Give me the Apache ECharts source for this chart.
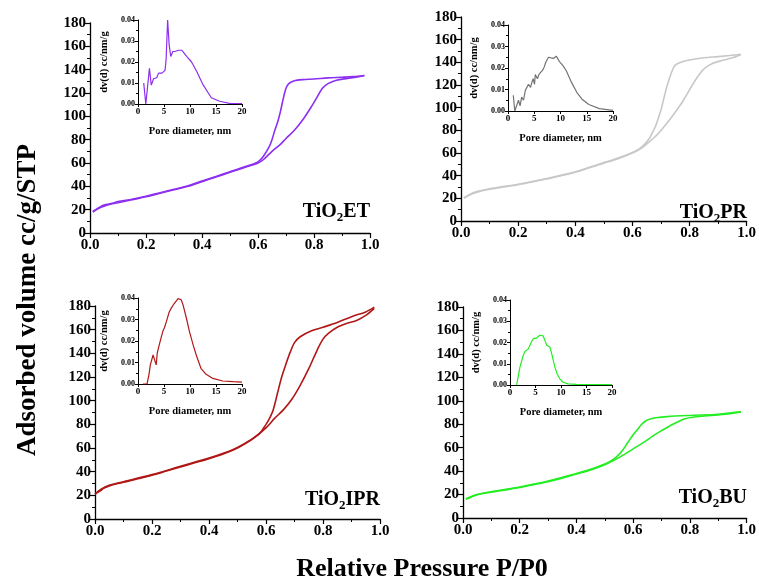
<!DOCTYPE html>
<html><head><meta charset="utf-8">
<script src="https://cdn.jsdelivr.net/npm/echarts@6/dist/echarts.min.js"></script>
<style>html,body{margin:0;padding:0;background:#fff}#c{width:759px;height:586px}</style>
</head><body><div id="c"></div>
<script>
// ---------- Data ----------
// TiO2ET isotherm
const etAdsP = [0.01,0.03,0.05,0.08,0.1,0.15,0.2,0.25,0.3,0.35,0.4,0.45,0.5,0.55,0.6,0.62,0.65,0.68,0.7,0.73,0.76,0.79,0.81,0.83,0.85,0.88,0.92,0.96,0.98];
const etAdsV = [18,21,23,25,26,28.5,31,34,37,40,44,48,52,56,60,63,70,76,81,88,97,108,116,124,128,131,132.5,134,135];
const etDesP = [0.98,0.94,0.9,0.85,0.8,0.76,0.73,0.71,0.70,0.69,0.68,0.67,0.66,0.65,0.64,0.62,0.6,0.55,0.5,0.45,0.4,0.35,0.3,0.25,0.2,0.15,0.1,0.08,0.05,0.03,0.01];
const etDesV = [135,134,133.5,133,132,131.5,130.5,128,124,115,104,95,88,80,74,66,61,56.5,52.5,48.5,44.5,40.5,37.5,34.5,31.5,29,27,25.5,24,21.5,18.5];
// TiO2PR isotherm
const prAdsP = [0.01,0.03,0.05,0.1,0.15,0.2,0.25,0.3,0.35,0.4,0.45,0.5,0.55,0.6,0.63,0.66,0.69,0.72,0.75,0.78,0.81,0.83,0.85,0.88,0.92,0.95,0.98];
const prAdsV = [20,23,25,28,30,32,34.5,37,40,43,47,51,55,60,64,70,77,86,96,107,120,128,134,139,142,144,147];
const prDesP = [0.98,0.94,0.9,0.85,0.8,0.77,0.75,0.74,0.73,0.72,0.71,0.70,0.69,0.68,0.67,0.66,0.64,0.62,0.6,0.55,0.5,0.45,0.4,0.3,0.2,0.1,0.05,0.01];
const prDesV = [147,146,145,144,142,140,137.5,133,126,118,108,98,90,83,78,73,67,63,60.5,55.5,51.5,47.5,43.5,37.5,32.5,28.5,25.5,20.5];
// TiO2IPR isotherm
const iprAdsP = [0.0,0.01,0.02,0.03,0.05,0.08,0.1,0.15,0.2,0.25,0.3,0.35,0.4,0.45,0.5,0.55,0.6,0.63,0.66,0.69,0.72,0.75,0.78,0.8,0.82,0.85,0.88,0.92,0.95,0.98];
const iprAdsV = [21,22.5,24,26,28,30,31,34,37,40.5,44,47.5,51,55,60,67,77,85,92,101,113,127,143,152,157,162,165,168,172,178];
const iprDesP = [0.98,0.95,0.9,0.85,0.8,0.76,0.72,0.7,0.685,0.67,0.655,0.64,0.625,0.61,0.6,0.58,0.55,0.5,0.45,0.4,0.3,0.2,0.1,0.05,0.02,0.0];
const iprDesV = [179,175,171,166,162,159,154,149,141,131,120,106,92,84,80,73,67.5,60.5,55.5,51.5,44.5,37.5,31.5,28.5,25,21];
// TiO2BU isotherm
const buAdsP = [0.01,0.03,0.06,0.1,0.15,0.2,0.25,0.3,0.35,0.4,0.45,0.5,0.53,0.56,0.6,0.64,0.67,0.7,0.74,0.78,0.81,0.85,0.9,0.94,0.98];
const buAdsV = [16,18,20.5,22,24,26,28.5,31,34,37.5,41,45.5,49,53,59,65,70,74.5,80,84.5,86,87,88,89,90.5];
const buDesP = [0.98,0.9,0.8,0.72,0.68,0.66,0.645,0.63,0.62,0.6,0.58,0.56,0.54,0.52,0.5,0.45,0.4,0.3,0.2,0.1,0.05,0.01];
const buDesV = [90.5,88.5,87.5,86.5,85.5,84.5,83,80,77,71,64,57,52,48.5,46,41.5,38,31.5,26.5,22.5,20,16.5];
// Pore size distributions (insets)
const etPoreD = [1.1,1.5,1.85,2.2,2.55,3.0,3.6,3.95,4.3,4.6,4.9,5.2,5.4,5.7,6.0,6.3,6.7,7.1,7.8,8.4,9.4,10.3,11.3,12.5,14.1,15.7,17.6,20];
const etPoreV = [0.010,0,0,0.017,0.009,0.012,0.0125,0.0147,0.014,0.0147,0.0155,0.016,0.021,0.040,0.028,0.0226,0.025,0.025,0.0256,0.0256,0.0226,0.020,0.0155,0.0092,0.003,0.0013,0.0003,0.0002];
const prPoreD = [1.0,1.3,1.6,2.0,2.3,2.6,2.95,3.3,3.6,3.9,4.3,4.5,4.8,5.05,5.2,5.6,5.9,6.2,6.6,6.9,7.2,7.7,8.2,8.7,9.2,9.8,10.5,11.1,12.1,13.1,14.1,15.4,17.4,20];
const prPoreV = [0.0073,0,0,0.005,0.0024,0.0065,0.005,0.0096,0.010,0.0124,0.011,0.013,0.015,0.0124,0.017,0.015,0.017,0.0178,0.019,0.0205,0.0227,0.025,0.0247,0.0245,0.0255,0.023,0.021,0.0187,0.0133,0.0087,0.0055,0.003,0.0011,0.0003];
const iprPoreD = [0.96,1.73,2.1,2.37,2.9,3.1,3.3,3.5,3.7,4.0,4.5,4.8,5.1,5.45,6.0,6.4,6.9,7.2,7.7,8.0,8.3,8.65,9.3,9.9,10.6,11.2,12.1,13.1,14.4,16.3,18.3,20];
const iprPoreV = [0,0,0.0042,0.0089,0.0135,0.0143,0.0104,0.0089,0.0143,0.0174,0.022,0.0247,0.0263,0.029,0.0335,0.0353,0.0372,0.038,0.0397,0.040,0.0392,0.0369,0.0307,0.0244,0.0182,0.0135,0.0073,0.0045,0.0026,0.0014,0.0011,0.0009];
const buPoreD = [1.3,1.63,1.95,2.3,2.6,2.9,3.26,3.6,3.9,4.2,4.56,4.9,5.2,5.5,5.86,6.2,6.5,6.84,7.2,7.5,7.8,8.1,8.5,8.8,9.25,9.8,10.4,11.4,13,20];
const buPoreV = [0,0,0.0084,0.0115,0.0139,0.0158,0.0166,0.017,0.0187,0.0202,0.0218,0.0226,0.0221,0.0218,0.0234,0.0237,0.0231,0.021,0.0187,0.0183,0.0179,0.0155,0.0115,0.0084,0.0052,0.0028,0.0013,0.0005,0.0003,0.0002];

const sampleNames = ['ET','PR','IPR','BU'];
const mainColors = ['#8c2ff0','#c8c8c8','#b01818','#22ee22'];
const insetColors = ['#8c2ff0','#747474','#b01818','#22ee22'];
const xTitle = 'Relative Pressure P/P0';
const yTitle = 'Adsorbed volume cc/g/STP';
const insetXName = 'Pore diameter, nm';
const insetYName = 'dv(d) cc/nm/g';

// ---------- Layout ----------
const FONT = 'Liberation Serif';
const mainGrids = [
  {left:90, top:23, width:280, height:210},
  {left:461, top:17, width:286, height:204},
  {left:95, top:306, width:285, height:213},
  {left:463, top:307, width:285, height:211}
];
const insetGrids = [
  {left:138, top:20, width:104, height:84},
  {left:508, top:25, width:105, height:86},
  {left:138, top:298, width:104, height:86},
  {left:510, top:300, width:102, height:85}
];
const labelPos = [[370,212],[747,213],[380,500],[747,498]];

const zip = (a,b) => a.map((v,i)=>[v,b[i]]);
const isoAds = [[etAdsP,etAdsV],[prAdsP,prAdsV],[iprAdsP,iprAdsV],[buAdsP,buAdsV]];
const isoDes = [[etDesP,etDesV],[prDesP,prDesV],[iprDesP,iprDesV],[buDesP,buDesV]];
const pores = [[etPoreD,etPoreV],[prPoreD,prPoreV],[iprPoreD,iprPoreV],[buPoreD,buPoreV]];

const grid = [], xAxis = [], yAxis = [], series = [];
const axLine = {lineStyle:{color:'#000', width:1.3}};
mainGrids.forEach((g,i)=>{
  grid.push(Object.assign({containLabel:false}, g));
  xAxis.push({gridIndex:i, type:'value', min:0, max:1, interval:0.2,
    axisLine:axLine, axisTick:{show:true, length:5, lineStyle:{color:'#000',width:1.2}},
    minorTick:{show:true, splitNumber:2, length:3, lineStyle:{color:'#000'}},
    splitLine:{show:false},
    axisLabel:{fontFamily:FONT, fontWeight:'bold', fontSize:15, color:'#000', margin:5,
      formatter:v=>v.toFixed(1)}});
  yAxis.push({gridIndex:i, type:'value', min:0, max:180, interval:20,
    axisLine:Object.assign({show:true},axLine), axisTick:{show:true, length:5, lineStyle:{color:'#000',width:1.2}},
    minorTick:{show:true, splitNumber:2, length:3, lineStyle:{color:'#000'}},
    splitLine:{show:false},
    axisLabel:{fontFamily:FONT, fontWeight:'bold', fontSize:15, color:'#000', margin:4}});
  [isoAds[i], isoDes[i]].forEach(d=>{
    series.push({type:'line', xAxisIndex:i, yAxisIndex:i, data:zip(d[0],d[1]),
      showSymbol:false, smooth:0.3, lineStyle:{color:mainColors[i], width:1.6}, silent:true});
  });
});
insetGrids.forEach((g,k)=>{
  const i = k+4;
  grid.push(Object.assign({containLabel:false}, g));
  xAxis.push({gridIndex:i, type:'value', min:0, max:20, interval:5,
    name:insetXName, nameLocation:'middle', nameGap:22,
    nameTextStyle:{fontFamily:FONT, fontWeight:'bold', fontSize:10.5, color:'#000'},
    axisLine:{lineStyle:{color:'#000', width:1}}, axisTick:{length:3, lineStyle:{color:'#000'}},
    splitLine:{show:false},
    axisLabel:{fontFamily:FONT, fontWeight:'bold', fontSize:9, color:'#000', margin:3}});
  yAxis.push({gridIndex:i, type:'value', min:0, max:0.04, interval:0.01,
    name:insetYName, nameLocation:'middle', nameGap:28, nameRotate:90,
    nameTextStyle:{fontFamily:FONT, fontWeight:'bold', fontSize:10.5, color:'#000'},
    axisLine:{show:true, lineStyle:{color:'#000', width:1}}, axisTick:{show:true, length:3, lineStyle:{color:'#000'}},
    minorTick:{show:true, splitNumber:2, length:2, lineStyle:{color:'#000'}},
    splitLine:{show:false},
    axisLabel:{fontFamily:FONT, fontWeight:'bold', fontSize:8, color:'#000', margin:3,
      formatter:v=>v.toFixed(2)}});
  series.push({type:'line', xAxisIndex:i, yAxisIndex:i, data:zip(pores[k][0],pores[k][1]),
    showSymbol:false, lineStyle:{color:insetColors[k], width:1.2}, silent:true});
});

const graphic = [
  {type:'text', x:28, y:300, rotation:Math.PI/2, style:{text:yTitle, font:'bold 27px "'+FONT+'"', fill:'#000', align:'center', verticalAlign:'middle'}},
  {type:'text', x:422, y:569, style:{text:xTitle, font:'bold 26px "'+FONT+'"', fill:'#000', align:'center', verticalAlign:'middle'}}
];
sampleNames.forEach((n,i)=>{
  graphic.push({type:'text', x:labelPos[i][0], y:labelPos[i][1],
    style:{text:'{a|TiO}{b|2}{a|'+n+'}', align:'right', verticalAlign:'middle', fill:'#000',
      rich:{a:{fontFamily:FONT, fontWeight:'bold', fontSize:20, fill:'#000'},
            b:{fontFamily:FONT, fontWeight:'bold', fontSize:13, fill:'#000', padding:[12,0,0,0]}}}});
});

const chart = echarts.init(document.getElementById('c'), null, {renderer:'canvas'});
chart.setOption({animation:false, backgroundColor:'#fff', grid, xAxis, yAxis, series, graphic});
</script></body></html>
